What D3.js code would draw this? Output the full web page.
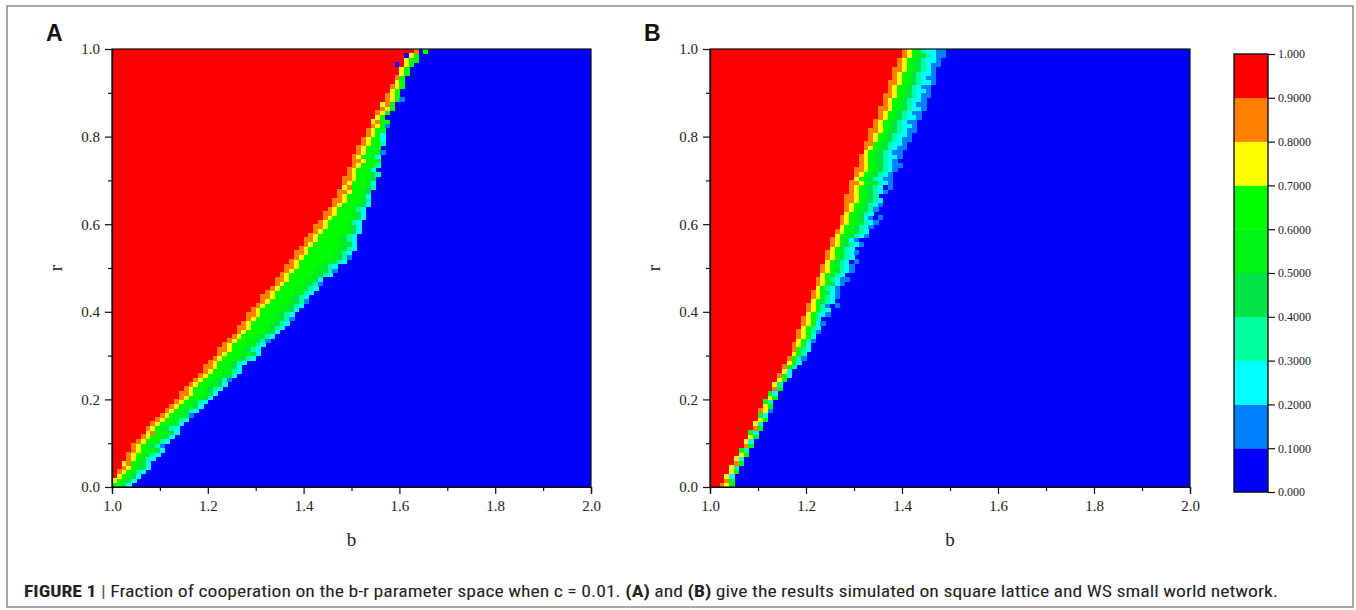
<!DOCTYPE html>
<html>
<head>
<meta charset="utf-8">
<script src="https://cdn.jsdelivr.net/npm/d3@7"></script>
<style>
  body { margin: 0; background: #fff; }
  svg { display: block; }
</style>
</head>
<body>
<script>
// colour bands of the fraction of cooperation (0.0 .. 1.0, step 0.1)
const bandEdges = [0.1, 0.2, 0.3, 0.4, 0.5, 0.6, 0.7, 0.8, 0.9];
const bandColors = ["#0000ff", "#0080ff", "#00ffff", "#00ffa0", "#00e448",
                    "#00f414", "#00ff00", "#ffff00", "#ff8000", "#ff0000"];
const barLabels = ["0.000", "0.1000", "0.2000", "0.3000", "0.4000", "0.5000",
                   "0.6000", "0.7000", "0.8000", "0.9000", "1.000"];
const xTicks = [1.0, 1.2, 1.4, 1.6, 1.8, 2.0];
const yTicks = [0.0, 0.2, 0.4, 0.6, 0.8, 1.0];

// grid: b = 1.00..1.99 (step 0.01), r = 0.00..0.99 (step 0.01)
const redEndA = [0,0,1,1,2,2,3,3,4,4, 5,6,7,7,8,9,10,11,12,13,
  14,14,15,16,17,18,19,19,20,21, 22,22,23,24,25,26,26,27,28,28,
  29,30,31,31,32,33,34,34,35,36, 36,37,38,38,39,40,40,41,42,42,
  43,44,44,45,46,46,47,47,48,48, 48,49,49,50,50,50,51,51,52,52,
  53,53,54,54,55,55,56,56,57,57, 58,58,59,59,60,60,59,61,61,63];
const bandA = ["6642","76542","76542","876532","876542","786542","876532","8765432","8766542","8765431",
  "8766532","8765542","7866542","8765432","8766542","8765532","8766541","8765432","8766542","8765532",
  "8766542","88766542","87665432","87665542","87665431","87666542","87665532","88766542","87665432","876665432",
  "876665542","887665432","876665532","876655431","876665432","876666542","8876665432","8766665432","8766655431","8876665432",
  "8766665542","8766655432","8766665431","8876665432","8766665532","8766655432","8766665431","8876665542","87666665432","87666655431",
  "88766665432","876666655432","876666665431","887666665532","876666665432","87666665542","88766665432","8766665532","8766666542","8876666542",
  "876666532","876666542","887666542","87666532","87666542","88766643","8766652","8876654","7866643","8766652",
  "8876654","8766643","876652","876663","887665","876652","876661","87665","87663","87662",
  "8762","8766","8761","7866","760","876","876","786","8761","876",
  "76","876","76","86","76","76","0976","766","076","8060"];

const redEndB = [2,3,3,4,4,5,5,6,6,7, 7,8,8,9,9,10,10,10,11,11,
  12,12,13,13,14,14,15,15,16,16, 17,17,17,18,18,18,19,19,19,20,
  20,20,21,21,21,22,22,22,23,23, 23,24,24,24,25,25,25,26,26,27,
  27,27,28,28,28,28,28,29,29,29, 30,30,30,31,31,31,32,32,32,33,
  33,33,34,34,35,35,35,36,36,36, 37,37,37,38,38,38,39,39,40,40];
const bandB = ["876","86","72","76","73","86","72","76","63","86",
  "72","76","62","86","73","76","62","871","76","63",
  "76","62","86","73","76","862","72","863","762","8631",
  "763","8632","8762","7631","8762","87631","7632","87621","8763","76321",
  "87632","8763101","76432","876321","876421","76321","876421","8763211","76532","8764321",
  "8765321","7643201","876432","8765321","76432","8764321","876421","7654321","8765432","7654321",
  "87654321","876542101","765432","8765431","87654321","88765432","8876543","87654321","876543201","887654321",
  "76543211","87654321","887654321","876543211","87654321","876543221","76543211","876543211","886543221","876543211",
  "876543221","8876543211","876543221","876543211","876543221","876543211","8876543221","876543211","876543221","8876543211",
  "876543221","876543211","8876543221","876543211","876543221","887654321","876543211","876543221","876543211","876532211"];

const W = 1356, H = 610;
const svg = d3.select("body").append("svg").attr("width", W).attr("height", H);

// outer frame
svg.append("rect").attr("x", 7).attr("y", 6).attr("width", 1346).attr("height", 601)
  .attr("fill", "none").attr("stroke", "#8a8a8a").attr("stroke-width", 1.5);

const color = d3.scaleThreshold().domain(bandEdges).range(bandColors);
const serif = "'Liberation Serif', 'Times New Roman', Times, serif";

function panel(left, right, letter, redEnd, bands) {
  const top = 49, bottom = 487;
  const x = d3.scaleLinear().domain([1, 2]).range([left, right]);
  const y = d3.scaleLinear().domain([0, 1]).range([bottom, top]);
  const g = svg.append("g");
  const map = g.append("g").attr("shape-rendering", "crispEdges");
  const cw = x(1.01) - x(1), ch = y(0) - y(0.01);

  map.append("rect").attr("x", x(1)).attr("y", y(1)).attr("width", x(2) - x(1)).attr("height", y(0) - y(1))
    .attr("fill", color(0.05));

  const rows = redEnd.map((n, k) => ({ r: k * 0.01, n: n, s: bands[k] }));
  // red part of each row
  map.selectAll("rect.red").data(rows).join("rect").attr("class", "red")
    .attr("x", x(1)).attr("y", d => y(d.r + 0.01))
    .attr("width", d => Math.max(0, x(1 + d.n * 0.01) - x(1))).attr("height", ch + 0.6)
    .attr("fill", color(0.95));
  // transition cells
  const cells = [];
  rows.forEach(d => d.s.split("").forEach((c, i) =>
    cells.push({ b: 1 + (d.n + i) * 0.01, r: d.r, v: (+c + 0.5) / 10 })));
  map.selectAll("rect.cell").data(cells).join("rect").attr("class", "cell")
    .attr("x", d => x(d.b)).attr("y", d => y(d.r + 0.01))
    .attr("width", cw + 0.6).attr("height", ch + 0.6)
    .attr("fill", d => color(d.v));

  // frame
  g.append("rect").attr("x", left).attr("y", top).attr("width", right - left).attr("height", bottom - top)
    .attr("fill", "none").attr("stroke", "#111").attr("stroke-width", 1.2);

  g.append("g").attr("transform", `translate(0,${bottom})`)
    .call(d3.axisBottom(x).tickValues(xTicks).tickFormat(d3.format(".1f")).tickSize(7).tickPadding(6));
  g.append("g").attr("transform", `translate(0,${bottom})`)
    .call(d3.axisBottom(x).tickValues([1.1, 1.3, 1.5, 1.7, 1.9]).tickFormat("").tickSize(4));
  g.append("g").attr("transform", `translate(${left},0)`)
    .call(d3.axisLeft(y).tickValues(yTicks).tickFormat(d3.format(".1f")).tickSize(7).tickPadding(5));
  g.append("g").attr("transform", `translate(${left},0)`)
    .call(d3.axisLeft(y).tickValues([0.1, 0.3, 0.5, 0.7, 0.9]).tickFormat("").tickSize(4));
  g.selectAll(".domain").attr("stroke", "#111").attr("stroke-width", 1.2);
  g.selectAll(".tick line").attr("stroke", "#111").attr("stroke-width", 1.2);
  g.selectAll(".tick text").style("font-family", serif).style("font-size", "15px").attr("fill", "#222");

  g.append("text").attr("x", (left + right) / 2).attr("y", 546).attr("text-anchor", "middle")
    .style("font-family", serif).style("font-size", "19px").attr("fill", "#222").text("b");
  g.append("text").attr("transform", `translate(${left - 50},268) rotate(-90)`).attr("text-anchor", "middle")
    .style("font-family", serif).style("font-size", "19px").attr("fill", "#222").text("r");
  g.append("text").attr("x", left - 66).attr("y", 41).attr("text-anchor", "start")
    .style("font-family", "'Liberation Sans', Arial, sans-serif").attr("font-weight", "bold")
    .style("font-size", "23px").attr("fill", "#111").text(letter);
}

panel(112, 591, "A", redEndA, bandA);
panel(710, 1190, "B", redEndB, bandB);

// colour bar
const cb = svg.append("g");
const cy = d3.scaleLinear().domain([0, 1]).range([492, 54]);
const steps = d3.range(10).map(i => i / 10);
cb.selectAll("rect").data(steps).join("rect")
  .attr("x", 1234).attr("y", d => cy(d + 0.1)).attr("width", 34).attr("height", d => cy(d) - cy(d + 0.1) + 0.3)
  .attr("fill", d => color(d + 0.05));
cb.append("rect").attr("x", 1234).attr("y", cy(1)).attr("width", 34).attr("height", cy(0) - cy(1))
  .attr("fill", "none").attr("stroke", "#111").attr("stroke-width", 1.4);
cb.append("g").attr("transform", "translate(1268,0)")
  .call(d3.axisRight(cy).tickValues(d3.range(11).map(i => i / 10)).tickFormat((d, i) => barLabels[i]).tickSize(7).tickPadding(3))
  .call(s => s.select(".domain").remove())
  .call(s => s.selectAll(".tick line").attr("stroke", "#111").attr("stroke-width", 1.2))
  .call(s => s.selectAll(".tick text").style("font-family", serif).style("font-size", "12px").attr("fill", "#222"));

// caption
const cap = svg.append("text").attr("x", 24).attr("y", 597)
  .style("font-family", "'Liberation Sans Narrow', 'Roboto Condensed', 'Liberation Sans', sans-serif")
  .style("font-size", "17px").attr("fill", "#222")
  .attr("textLength", 1254).attr("lengthAdjust", "spacingAndGlyphs");
cap.append("tspan").attr("font-weight", "bold").text("FIGURE 1 ");
cap.append("tspan").attr("fill", "#555").text("| ");
cap.append("tspan").text("Fraction of cooperation on the b-r parameter space when c = 0.01. ");
cap.append("tspan").attr("font-weight", "bold").text("(A)");
cap.append("tspan").text(" and ");
cap.append("tspan").attr("font-weight", "bold").text("(B)");
cap.append("tspan").text(" give the results simulated on square lattice and WS small world network.");
</script>
</body>
</html>
